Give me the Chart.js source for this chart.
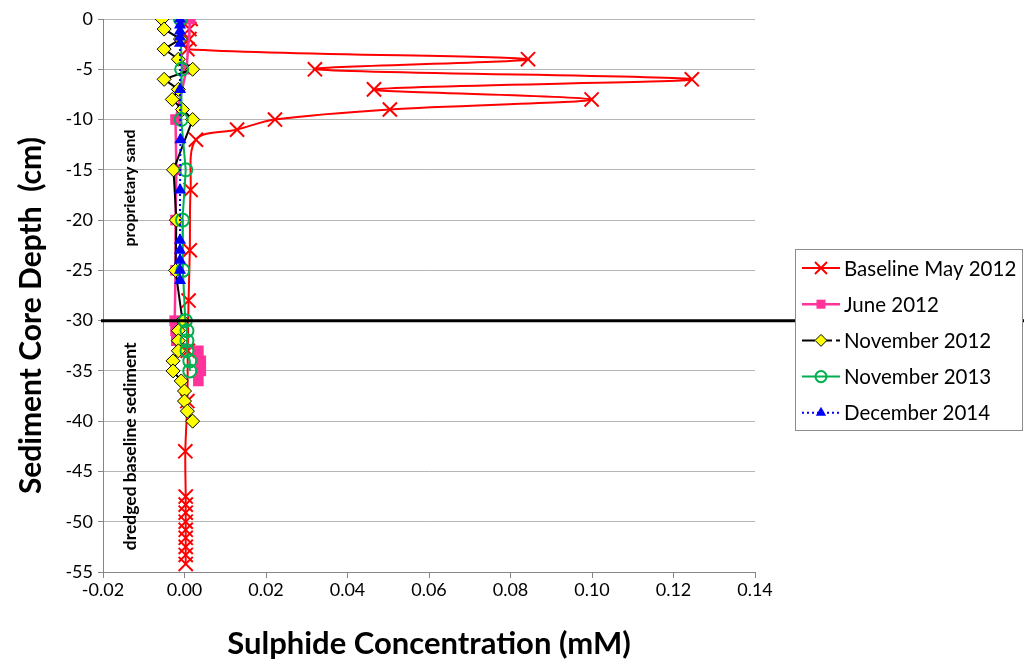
<!DOCTYPE html>
<html><head><meta charset="utf-8">
<script src="https://cdn.jsdelivr.net/npm/chart.js@4.4.0/dist/chart.umd.min.js"></script>
<style>html,body{margin:0;padding:0;background:#fff;}#wrap{width:1024px;height:666px;}</style>
</head><body><div id="wrap"><canvas id="c" width="1024" height="666"></canvas></div>
<script>
// ---- data (depth in cm, sulphide in mM) ----
const xTickValues = [-0.02, 0, 0.02, 0.04, 0.06, 0.08, 0.10, 0.12, 0.14];
const yTickValues = [0, -5, -10, -15, -20, -25, -30, -35, -40, -45, -50, -55];

const seriesNames = ["Baseline May 2012", "June 2012", "November 2012", "November 2013", "December 2014"];

const may2012Depth = [0, -1, -2, -3, -4, -5, -6, -7, -8, -9, -10, -11, -12, -17, -23, -28, -33, -38, -43, -47.5, -48.3, -49.1, -50, -50.8, -51.6, -52.5, -53.3, -54.2];
const may2012Conc  = [0.0015, 0.0012, 0.0012, 0.0007, 0.0843, 0.032, 0.1245, 0.0465, 0.0999, 0.0504, 0.0222, 0.0129, 0.0028, 0.0015, 0.0013, 0.001, 0.0008, 0.0007, 0.0002, 0.0003, 0.0003, 0.0003, 0.0003, 0.0003, 0.0003, 0.0003, 0.0003, 0.0003];

const jun2012Depth = [0, -5, -10, -15, -20, -25, -30, -31, -32, -33, -34, -35, -36];
const jun2012Conc  = [0.0014, 0.0005, -0.0022, -0.002, -0.0022, -0.0022, -0.0024, -0.0022, -0.002, 0.0034, 0.004, 0.004, 0.0034];

const nov2012Depth = [0, -1, -2, -3, -4, -5, -6, -7, -8, -9, -10, -15, -20, -25, -30, -31, -32, -33, -34, -35, -36, -37, -38, -39, -40];
const nov2012Conc  = [-0.0055, -0.005, -0.001, -0.005, -0.0015, 0.002, -0.005, -0.0015, -0.003, -0.0005, 0.002, -0.0027, -0.002, -0.0022, -0.0005, -0.0015, -0.0015, -0.0015, -0.0028, -0.0028, -0.0008, 0, 0, 0.0007, 0.002];

const nov2013Depth = [0, -5, -10, -15, -20, -25, -30, -31, -32, -33, -34, -35];
const nov2013Conc  = [-0.001, -0.0007, -0.0008, 0.0003, -0.0005, -0.0004, 0.0002, 0.0006, 0.0006, 0.0006, 0.0013, 0.0013];

const dec2014Depth = [0, -0.6, -1.2, -1.8, -2.4, -7, -12, -17, -22, -23, -24, -25, -26];
const dec2014Conc  = [-0.0011, -0.0011, -0.0011, -0.0011, -0.0011, -0.0011, -0.001, -0.0011, -0.0011, -0.0011, -0.0011, -0.0011, -0.0011];

const boundaryDepth = -30;
const zoneLabels = ["proprietary sand", "dredged baseline sediment"];
const zoneCenters = [-16.8, -42.5];
const zoneFontSizes = [16, 17.5];
const yTitle = 'Sediment Core Depth  (cm)';
const xTitle = 'Sulphide Concentration (mM)';

// ---- build ----
const pts = (xs, ys) => xs.map((x, i) => ({x: x, y: ys[i]}));
const FONT = "Lato, 'Open Sans', sans-serif";

const datasets = [
  {label: seriesNames[0], data: pts(may2012Conc, may2012Depth), borderColor: '#ff0000', backgroundColor: '#ff0000',
   borderWidth: 2, tension: 0.33, pointStyle: 'crossRot', pointRadius: 10, pointBorderWidth: 2, pointBorderColor: '#ff0000', order: 5},
  {label: seriesNames[1], data: pts(jun2012Conc, jun2012Depth), borderColor: '#ff3399', backgroundColor: '#ff3399',
   borderWidth: 2.5, tension: 0, pointStyle: 'rect', pointRadius: 7.5, pointBorderWidth: 0, order: 4},
  {label: seriesNames[2], data: pts(nov2012Conc, nov2012Depth), borderColor: '#000000', backgroundColor: '#ffff00',
   borderWidth: 2, tension: 0, pointStyle: 'rectRot', pointRadius: 7, pointBorderWidth: 1, pointBorderColor: '#000000', order: 3},
  {label: seriesNames[3], data: pts(nov2013Conc, nov2013Depth), borderColor: '#00b050', backgroundColor: 'rgba(0,0,0,0)',
   borderWidth: 2, tension: 0, pointStyle: 'circle', pointRadius: 6.5, pointBorderWidth: 2, pointBorderColor: '#00b050', order: 2},
  {label: seriesNames[4], data: pts(dec2014Conc, dec2014Depth), borderColor: '#0000ff', backgroundColor: '#0000ff',
   borderWidth: 2, borderDash: [2, 3], tension: 0, pointStyle: 'triangle', pointRadius: 7, pointBorderWidth: 0, order: 1}
];

const overlayPlugin = {
  id: 'overlay',
  afterDatasetsDraw(chart) {
    const ctx = chart.ctx, ys = chart.scales.y, area = chart.chartArea;
    ctx.save();
    // boundary line
    const yb = ys.getPixelForValue(boundaryDepth);
    ctx.strokeStyle = '#000'; ctx.lineWidth = 3;
    ctx.beginPath(); ctx.moveTo(area.left - 2, yb); ctx.lineTo(chart.width, yb); ctx.stroke();
    // zone labels
    ctx.fillStyle = '#000';
    ctx.textAlign = 'center'; ctx.textBaseline = 'middle';
    zoneLabels.forEach((t, i) => {
      ctx.save();
      ctx.font = "bold " + zoneFontSizes[i] + "px " + FONT;
      ctx.translate(area.left + 27, ys.getPixelForValue(zoneCenters[i]));
      ctx.rotate(-Math.PI / 2);
      ctx.fillText(t, 0, 0);
      ctx.restore();
    });
    // y axis title
    ctx.save();
    ctx.font = "bold 30px " + FONT;
    ctx.translate(31, ys.getPixelForValue(-29.5));
    ctx.rotate(-Math.PI / 2);
    ctx.fillText(yTitle, 0, 0);
    ctx.restore();
    ctx.restore();
  },
  afterDraw(chart) {
    const ctx = chart.ctx;
    ctx.save();
    const bx = 795, by = 249, bw = 228, bh = 182;
    ctx.fillStyle = '#fff'; ctx.fillRect(bx, by, bw, bh);
    ctx.strokeStyle = '#8c8c8c'; ctx.lineWidth = 1;
    ctx.strokeRect(bx + 0.5, by + 0.5, bw - 1, bh - 1);
    const rowY0 = 268, rowStep = 36.2, lx0 = 802, lx1 = 840, tx = 844;
    chart.data.datasets.forEach((ds, i) => {
      const y = rowY0 + i * rowStep;
      ctx.save();
      ctx.strokeStyle = ds.borderColor; ctx.lineWidth = ds.borderWidth;
      let dash = ds.borderDash || [];
      if (i === 2) dash = [13, 4];
      ctx.setLineDash(dash);
      ctx.beginPath(); ctx.moveTo(lx0, y); ctx.lineTo(lx1, y); ctx.stroke();
      ctx.setLineDash([]);
      ctx.fillStyle = ds.backgroundColor;
      ctx.strokeStyle = ds.pointBorderColor || ds.borderColor;
      ctx.lineWidth = ds.pointBorderWidth;
      Chart.helpers.drawPoint(ctx, {pointStyle: ds.pointStyle, rotation: 0, radius: ds.pointRadius * 0.85, borderWidth: ds.pointBorderWidth}, (lx0 + lx1) / 2, y);
      ctx.restore();
      ctx.fillStyle = '#000';
      ctx.font = "20.5px " + FONT;
      ctx.textAlign = 'left'; ctx.textBaseline = 'middle';
      ctx.fillText(ds.label, tx, y + 1);
    });
    ctx.restore();
  }
};

new Chart(document.getElementById('c'), {
  type: 'scatter',
  data: {datasets: datasets},
  options: {
    responsive: false, animation: false, devicePixelRatio: 1,
    showLine: true,
    layout: {padding: {top: 19, right: 269, left: 0, bottom: 0}},
    plugins: {legend: {display: false}, tooltip: {enabled: false}},
    elements: {line: {fill: false}},
    scales: {
      x: {
        type: 'linear', min: -0.02, max: 0.14,
        afterBuildTicks: s => { s.ticks = xTickValues.map(v => ({value: v})); },
        afterFit: s => { s.height = 94; },
        ticks: {callback: v => Number(v).toFixed(2), color: '#000', font: {family: FONT, size: 18}, padding: 1, maxRotation: 0, autoSkip: false},
        grid: {drawOnChartArea: false, drawTicks: true, tickLength: 6, tickColor: '#868686'},
        border: {color: '#868686', width: 1},
        title: {display: true, text: xTitle, color: '#000', font: {family: FONT, size: 31, weight: 'bold'}, padding: {top: 0, bottom: 3}}
      },
      y: {
        type: 'linear', min: -55, max: 0,
        afterBuildTicks: s => { s.ticks = yTickValues.map(v => ({value: v})); },
        afterFit: s => { s.width = 103; },
        ticks: {color: '#000', font: {family: FONT, size: 18}, padding: 5, autoSkip: false},
        grid: {color: '#b5b5b5', lineWidth: 1, drawTicks: true, tickLength: 5, tickColor: '#868686'},
        border: {color: '#868686', width: 1},
        title: {display: false}
      }
    }
  },
  plugins: [overlayPlugin]
});
</script>
</body></html>
